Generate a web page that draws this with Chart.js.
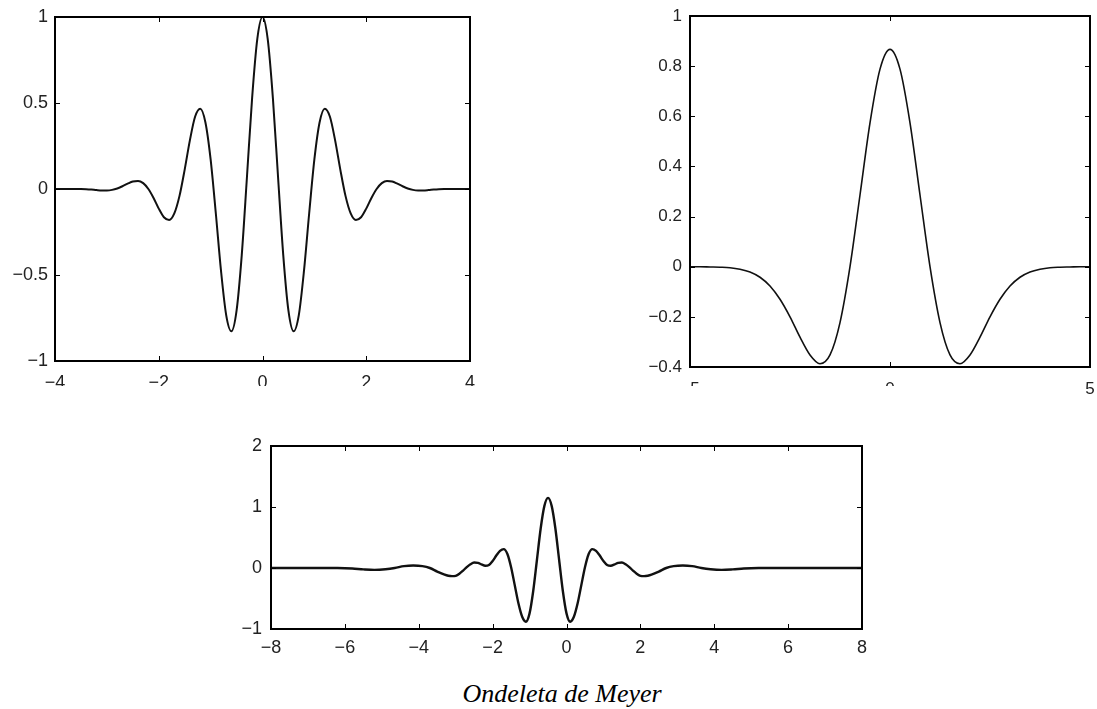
<!DOCTYPE html>
<html>
<head>
<meta charset="utf-8">
<title>Ondeletas</title>
<script src="https://cdn.jsdelivr.net/npm/chart.js@4.4.1/dist/chart.umd.min.js"></script>
<style>
    html, body { margin: 0; padding: 0; background: #fff; }
    body { width: 1097px; height: 709px; position: relative; overflow: hidden; }
    canvas { position: absolute; }
    /* the scanned figure is cut just under the top row's x labels */
    #cut { position: absolute; left: 0; top: 386px; width: 1078px; height: 30px; background: #fff; }
    #caption {
        position: absolute; left: 362px; top: 681px; width: 400px;
        text-align: center; color: #000;
        font: italic 26px/26px 'Liberation Serif', 'Times New Roman', serif;
    }
</style>
</head>
<body>
<canvas id="morletChart" width="480" height="400" style="left:0;top:0;width:480px;height:400px"></canvas>
<canvas id="hatChart" width="497" height="400" style="left:600px;top:0;width:497px;height:400px"></canvas>
<div id="cut"></div>
<canvas id="meyerChart" width="700" height="250" style="left:200px;top:420px;width:700px;height:250px"></canvas>
<div id="caption">Ondeleta de Meyer</div>

<script>
// ---- Morlet (top left) ----
const morletX = [-4.0, -3.9, -3.8, -3.7, -3.6, -3.5, -3.4, -3.3, -3.2, -3.1, -3.0, -2.9, -2.8, -2.7, -2.6, -2.5, -2.4, -2.3, -2.2, -2.1,
    -2.0, -1.9, -1.8, -1.7, -1.6, -1.5, -1.4, -1.3, -1.2, -1.1, -1.0, -0.9, -0.8, -0.7, -0.6, -0.5, -0.4, -0.3, -0.2, -0.1,
    0, 0.1, 0.2, 0.3, 0.4, 0.5, 0.6, 0.7, 0.8, 0.9, 1.0, 1.1, 1.2, 1.3, 1.4, 1.5, 1.6, 1.7, 1.8, 1.9,
    2.0, 2.1, 2.2, 2.3, 2.4, 2.5, 2.6, 2.7, 2.8, 2.9, 3.0, 3.1, 3.2, 3.3, 3.4, 3.5, 3.6, 3.7, 3.8, 3.9, 4.0];
const morletY = [0, 0, 0, 0, 0, 0, -0.001, -0.003, -0.006, -0.008, -0.008, -0.005, 0.003, 0.016, 0.031, 0.044, 0.047, 0.034, 0.000, -0.052,
    -0.114, -0.164, -0.180, -0.142, -0.040, 0.113, 0.283, 0.420, 0.467, 0.387, 0.172, -0.141, -0.475, -0.733, -0.827, -0.707, -0.384, 0.068, 0.530, 0.873,
    1.000, 0.873, 0.530, 0.068, -0.384, -0.707, -0.827, -0.733, -0.475, -0.141, 0.172, 0.387, 0.467, 0.420, 0.283, 0.113, -0.040, -0.142, -0.180, -0.164,
    -0.114, -0.052, 0.000, 0.034, 0.047, 0.044, 0.031, 0.016, 0.003, -0.005, -0.008, -0.008, -0.006, -0.003, -0.001, 0, 0, 0, 0, 0, 0];
const morletXTicks = [-4, -2, 0, 2, 4];
const morletYTicks = [-1, -0.5, 0, 0.5, 1];

// ---- Mexican hat (top right) ----
const hatX = [-5, -4.75, -4.5, -4.25, -4, -3.75, -3.5, -3.25, -3, -2.75, -2.5, -2.25, -2, -1.75, -1.5, -1.25, -1, -0.75, -0.5, -0.25,
    0, 0.25, 0.5, 0.75, 1, 1.25, 1.5, 1.75, 2, 2.25, 2.5, 2.75, 3, 3.25, 3.5, 3.75, 4, 4.25, 4.5, 4.75, 5];
const hatY = [0, 0, -0.001, -0.002, -0.004, -0.010, -0.021, -0.042, -0.077, -0.130, -0.200, -0.281, -0.352, -0.387, -0.352, -0.223, 0, 0.286, 0.574, 0.788,
    0.867, 0.788, 0.574, 0.286, 0, -0.223, -0.352, -0.387, -0.352, -0.281, -0.200, -0.130, -0.077, -0.042, -0.021, -0.010, -0.004, -0.002, -0.001, 0, 0];
const hatXTicks = [-5, 0, 5];
const hatYTicks = [-0.4, -0.2, 0, 0.2, 0.4, 0.6, 0.8, 1];

// ---- Meyer (bottom) ----
const meyerX = [-8.0, -7.0, -6.2, -5.8, -5.5, -5.2, -4.9, -4.65, -4.4, -4.15, -3.9, -3.7, -3.5, -3.3, -3.2, -3.1, -3.0, -2.9, -2.8, -2.7,
    -2.6, -2.5, -2.4, -2.3, -2.2, -2.1, -2.0, -1.9, -1.8, -1.7, -1.6, -1.5, -1.4, -1.3, -1.2, -1.1, -1.0, -0.9, -0.8, -0.7,
    -0.6, -0.5, -0.4, -0.3, -0.2, -0.1, 0.0, 0.1, 0.2, 0.3, 0.4, 0.5, 0.6, 0.7, 0.8, 0.9, 1.0, 1.1, 1.2, 1.3,
    1.4, 1.5, 1.6, 1.7, 1.8, 1.9, 2.0, 2.1, 2.2, 2.3, 2.5, 2.7, 2.9, 3.15, 3.4, 3.65, 3.9, 4.2, 4.5, 4.8,
    5.2, 6.0, 7.0, 8.0];
const meyerY = [0, 0, 0, -0.008, -0.022, -0.030, -0.020, 0.0, 0.030, 0.040, 0.030, 0.0, -0.058, -0.110, -0.127, -0.134, -0.128, -0.095, -0.043, 0.015,
    0.062, 0.089, 0.084, 0.058, 0.037, 0.050, 0.115, 0.204, 0.280, 0.310, 0.230, 0.013, -0.285, -0.583, -0.800, -0.880, -0.744, -0.373, 0.135, 0.643,
    1.014, 1.150, 1.014, 0.643, 0.135, -0.373, -0.744, -0.880, -0.800, -0.583, -0.285, 0.013, 0.230, 0.310, 0.280, 0.204, 0.115, 0.050, 0.037, 0.058,
    0.084, 0.089, 0.062, 0.015, -0.043, -0.095, -0.128, -0.134, -0.127, -0.110, -0.058, 0.0, 0.030, 0.040, 0.030, 0.0, -0.020, -0.030, -0.022, -0.008,
    0, 0, 0, 0];
const meyerXTicks = [-8, -6, -4, -2, 0, 2, 4, 6, 8];
const meyerYTicks = [-1, 0, 1, 2];

const TICK_FONT = "'Liberation Sans', Arial, Helvetica, sans-serif";

// matlab style labels use a real minus sign
function fmtTick(v) {
    return String(v).replace('-', '\u2212');
}

// Closed box plus short inward ticks on all four sides
const matlabBox = {
    id: 'matlabBox',
    afterDatasetsDraw(chart) {
        const { ctx, chartArea: a, scales } = chart;
        const len = 5;
        ctx.save();
        ctx.strokeStyle = '#000';
        ctx.lineWidth = 1;
        ctx.beginPath();
        scales.x.ticks.forEach(t => {
            const px = Math.round(scales.x.getPixelForValue(t.value)) + 0.5;
            ctx.moveTo(px, a.bottom); ctx.lineTo(px, a.bottom - len);
            ctx.moveTo(px, a.top); ctx.lineTo(px, a.top + len);
        });
        scales.y.ticks.forEach(t => {
            const py = Math.round(scales.y.getPixelForValue(t.value)) + 0.5;
            ctx.moveTo(a.left, py); ctx.lineTo(a.left + len, py);
            ctx.moveTo(a.right, py); ctx.lineTo(a.right - len, py);
        });
        ctx.stroke();
        ctx.lineWidth = 2;
        ctx.strokeRect(a.left, a.top, a.right - a.left, a.bottom - a.top);
        ctx.restore();
    }
};

function axisOptions(tickList, fontSize, padding, fitFn) {
    return {
        type: 'linear',
        min: tickList[0],
        max: tickList[tickList.length - 1],
        grid: { display: false, drawTicks: false },
        border: { display: false },
        afterBuildTicks: s => { s.ticks = tickList.map(v => ({ value: v })); },
        afterFit: s => {
            fitFn(s);
            // keep the box exactly where the layout padding puts it
            s.paddingLeft = s.paddingRight = s.paddingTop = s.paddingBottom = 0;
        },
        ticks: {
            color: '#222',
            autoSkip: false,
            maxRotation: 0,
            padding: padding,
            font: { family: TICK_FONT, size: fontSize },
            callback: fmtTick
        }
    };
}

function drawWavelet(id, xs, ys, cfg) {
    const points = xs.map((x, i) => ({ x: x, y: ys[i] }));
    return new Chart(document.getElementById(id), {
        type: 'line',
        data: {
            datasets: [{
                data: points,
                borderColor: '#111',
                borderWidth: cfg.lineWidth,
                pointRadius: 0,
                fill: false,
                cubicInterpolationMode: 'monotone'
            }]
        },
        options: {
            responsive: false,
            animation: false,
            devicePixelRatio: 1,
            layout: { padding: { top: cfg.padTop, right: cfg.padRight, left: 0, bottom: 0 } },
            plugins: { legend: { display: false }, tooltip: { enabled: false } },
            scales: {
                x: axisOptions(cfg.xTicks, cfg.fontSize, cfg.xPad, s => { s.height = cfg.xAxisHeight; }),
                y: axisOptions(cfg.yTicks, cfg.fontSize, cfg.yPad, s => { s.width = cfg.yAxisWidth; })
            }
        },
        plugins: [matlabBox]
    });
}

drawWavelet('morletChart', morletX, morletY, {
    xTicks: morletXTicks, yTicks: morletYTicks,
    fontSize: 18, lineWidth: 2,
    padTop: 17, padRight: 10, yAxisWidth: 55, xAxisHeight: 39, xPad: 11, yPad: 7
});

drawWavelet('hatChart', hatX, hatY, {
    xTicks: hatXTicks, yTicks: hatYTicks,
    fontSize: 17, lineWidth: 1.6,
    padTop: 16, padRight: 7, yAxisWidth: 90, xAxisHeight: 33, xPad: 12, yPad: 8
});

drawWavelet('meyerChart', meyerX, meyerY, {
    xTicks: meyerXTicks, yTicks: meyerYTicks,
    fontSize: 18, lineWidth: 2.4,
    padTop: 26, padRight: 38, yAxisWidth: 71, xAxisHeight: 41, xPad: 8, yPad: 9
});
</script>
</body>
</html>
